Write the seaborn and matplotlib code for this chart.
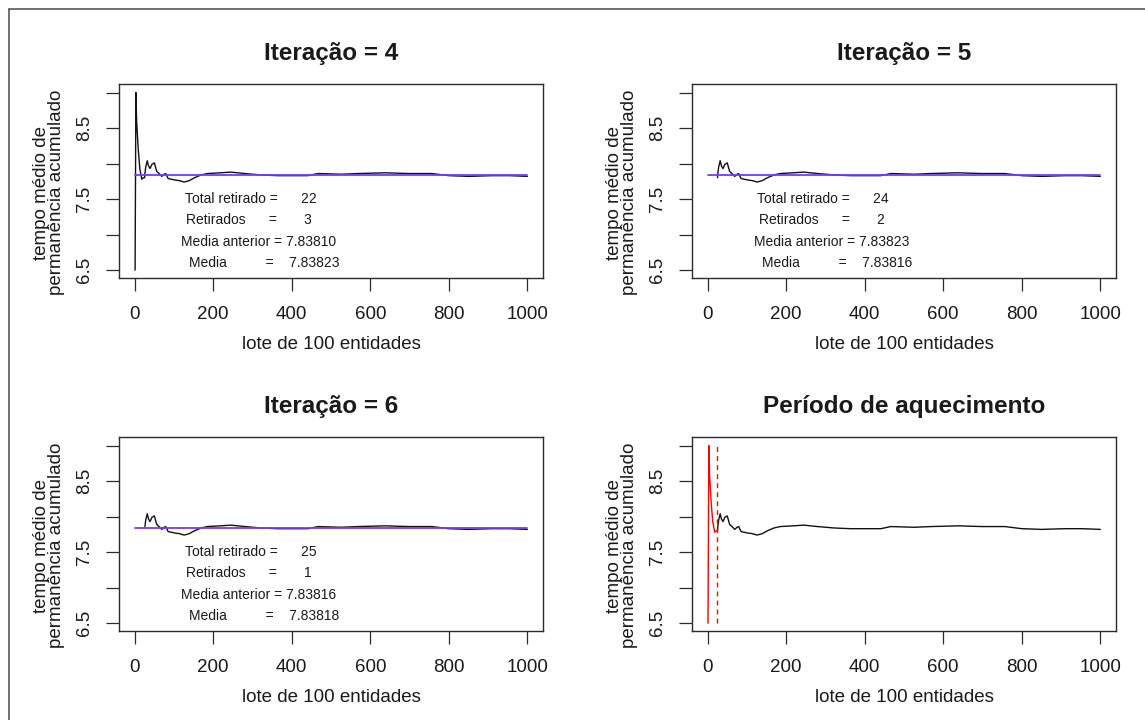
import matplotlib
matplotlib.use("Agg")
import matplotlib.pyplot as plt
from matplotlib.lines import Line2D
import pandas as pd
import seaborn as sns

# Cumulative mean residence time, one value per batch of 100 entities
lote = [1, 3, 5, 9, 13, 18, 22, 25, 26, 28, 32, 35, 39, 44, 50, 56, 62, 69,
        75, 79, 85, 93, 101, 114, 126, 139, 152, 169, 185, 218, 245, 280,
        322, 364, 407, 441, 467, 526, 569, 638, 697, 757, 800, 851, 910,
        954, 1000]
tempo_medio = [6.50, 9.00, 8.58, 8.20, 7.93, 7.78, 7.80, 7.80, 7.86, 7.95,
               8.04, 7.97, 7.93, 7.99, 8.01, 7.89, 7.86, 7.82, 7.85, 7.86,
               7.79, 7.78, 7.77, 7.76, 7.74, 7.76, 7.80, 7.84, 7.86, 7.87,
               7.88, 7.86, 7.84, 7.83, 7.83, 7.83, 7.86, 7.85, 7.86, 7.87,
               7.86, 7.86, 7.83, 7.82, 7.83, 7.83, 7.82]

# Warm-up removal iterations
iteracoes = [4, 5, 6]
total_retirado = [22, 24, 25]
retirados = [3, 2, 1]
media_anterior = [7.83810, 7.83823, 7.83816]
media = [7.83823, 7.83816, 7.83818]
primeiro_lote = [1, 25, 26]
aquecimento = 25

x_ticks = [0, 200, 400, 600, 800, 1000]
x_ticklabels = ["0", "200", "400", "600", "800", "1000"]
y_ticks = [6.5, 7.0, 7.5, 8.0, 8.5, 9.0]
y_ticklabels = ["6.5", "", "7.5", "", "8.5", ""]

serie = pd.DataFrame({"lote": lote, "tempo": tempo_medio})

sns.set_style("white")
plt.rcParams["font.family"] = ["Liberation Sans", "DejaVu Sans"]

TXT = "#1a1a1a"
PURPLE = "#7a3be8"

fig, axes = plt.subplots(2, 2, figsize=(11.45, 7.2), dpi=100)
fig.subplots_adjust(left=119 / 1145, right=1116 / 1145, top=1 - 84 / 720,
                    bottom=1 - 631 / 720, wspace=0.351, hspace=0.82)


def style_axes(ax, title):
    ax.set_xlim(-40, 1040)
    ax.set_ylim(6.39, 9.12)
    ax.set_xticks(x_ticks)
    ax.set_xticklabels(x_ticklabels)
    ax.set_yticks(y_ticks)
    ax.set_yticklabels(y_ticklabels)
    for sp in ax.spines.values():
        sp.set_visible(True)
        sp.set_color("#2b2b2b")
        sp.set_linewidth(1.0)
    ax.tick_params(axis="both", direction="out", length=9.4, width=0.9,
                   color="#2b2b2b", labelsize=13.5, labelcolor=TXT,
                   bottom=True, left=True)
    ax.tick_params(axis="x", pad=11)
    ax.tick_params(axis="y", pad=9.5)
    for lab in ax.get_yticklabels():
        lab.set_rotation(90)
        lab.set_va("center")
    ax.set_title(title, fontsize=17.5, fontweight="bold", color=TXT,
                 y=1.125, pad=0)
    ax.set_xlabel("lote de 100 entidades", fontsize=13.5, color=TXT)
    ax.xaxis.set_label_coords(0.5, -0.30)
    ax.set_ylabel("tempo médio de\npermanência acumulado", fontsize=13.5,
                  color=TXT, linespacing=0.82, va="center")
    ax.yaxis.set_label_coords(-0.165, 0.44)


text_x = [127, 130, 117, 138]
text_y = [7.5, 7.2, 6.9, 6.6]

for i, ax in enumerate([axes[0, 0], axes[0, 1], axes[1, 0]]):
    parte = serie[serie["lote"] >= primeiro_lote[i]]
    sns.lineplot(data=parte, x="lote", y="tempo", ax=ax, color="#111111",
                 lw=1.0, estimator=None, sort=False)
    ax.plot([0, 1000], [media[i], media[i]], color=PURPLE, lw=1.3)
    linhas = [
        f"Total retirado =      {total_retirado[i]}",
        f"Retirados      =       {retirados[i]}",
        f"Media anterior = {media_anterior[i]:.5f}",
        f"Media          =    {media[i]:.5f}",
    ]
    for tx, ty, s in zip(text_x, text_y, linhas):
        ax.text(tx, ty, s, fontsize=10, color=TXT, ha="left", va="center")
    style_axes(ax, f"Iteração = {iteracoes[i]}")

# Warm-up period highlighted in red
ax = axes[1, 1]
inicio = serie[serie["lote"] <= aquecimento]
resto = serie[serie["lote"] >= aquecimento]
sns.lineplot(data=resto, x="lote", y="tempo", ax=ax, color="#111111",
             lw=1.0, estimator=None, sort=False)
sns.lineplot(data=inicio, x="lote", y="tempo", ax=ax, color="red",
             lw=1.0, estimator=None, sort=False)
ax.vlines(aquecimento, min(tempo_medio), max(tempo_medio), color="red",
          lw=1.0, linestyles=(0, (3.5, 3)))
style_axes(ax, "Período de aquecimento")

# outer frame
fig.add_artist(Line2D([8.5 / 1145, 8.5 / 1145], [0, 1 - 9 / 720],
                      transform=fig.transFigure, color="#4a4a4a", lw=1.1))
fig.add_artist(Line2D([8.5 / 1145, 1.0], [1 - 9 / 720, 1 - 9 / 720],
                      transform=fig.transFigure, color="#4a4a4a", lw=1.1))

fig.savefig("out.png", dpi=100, facecolor="white")
